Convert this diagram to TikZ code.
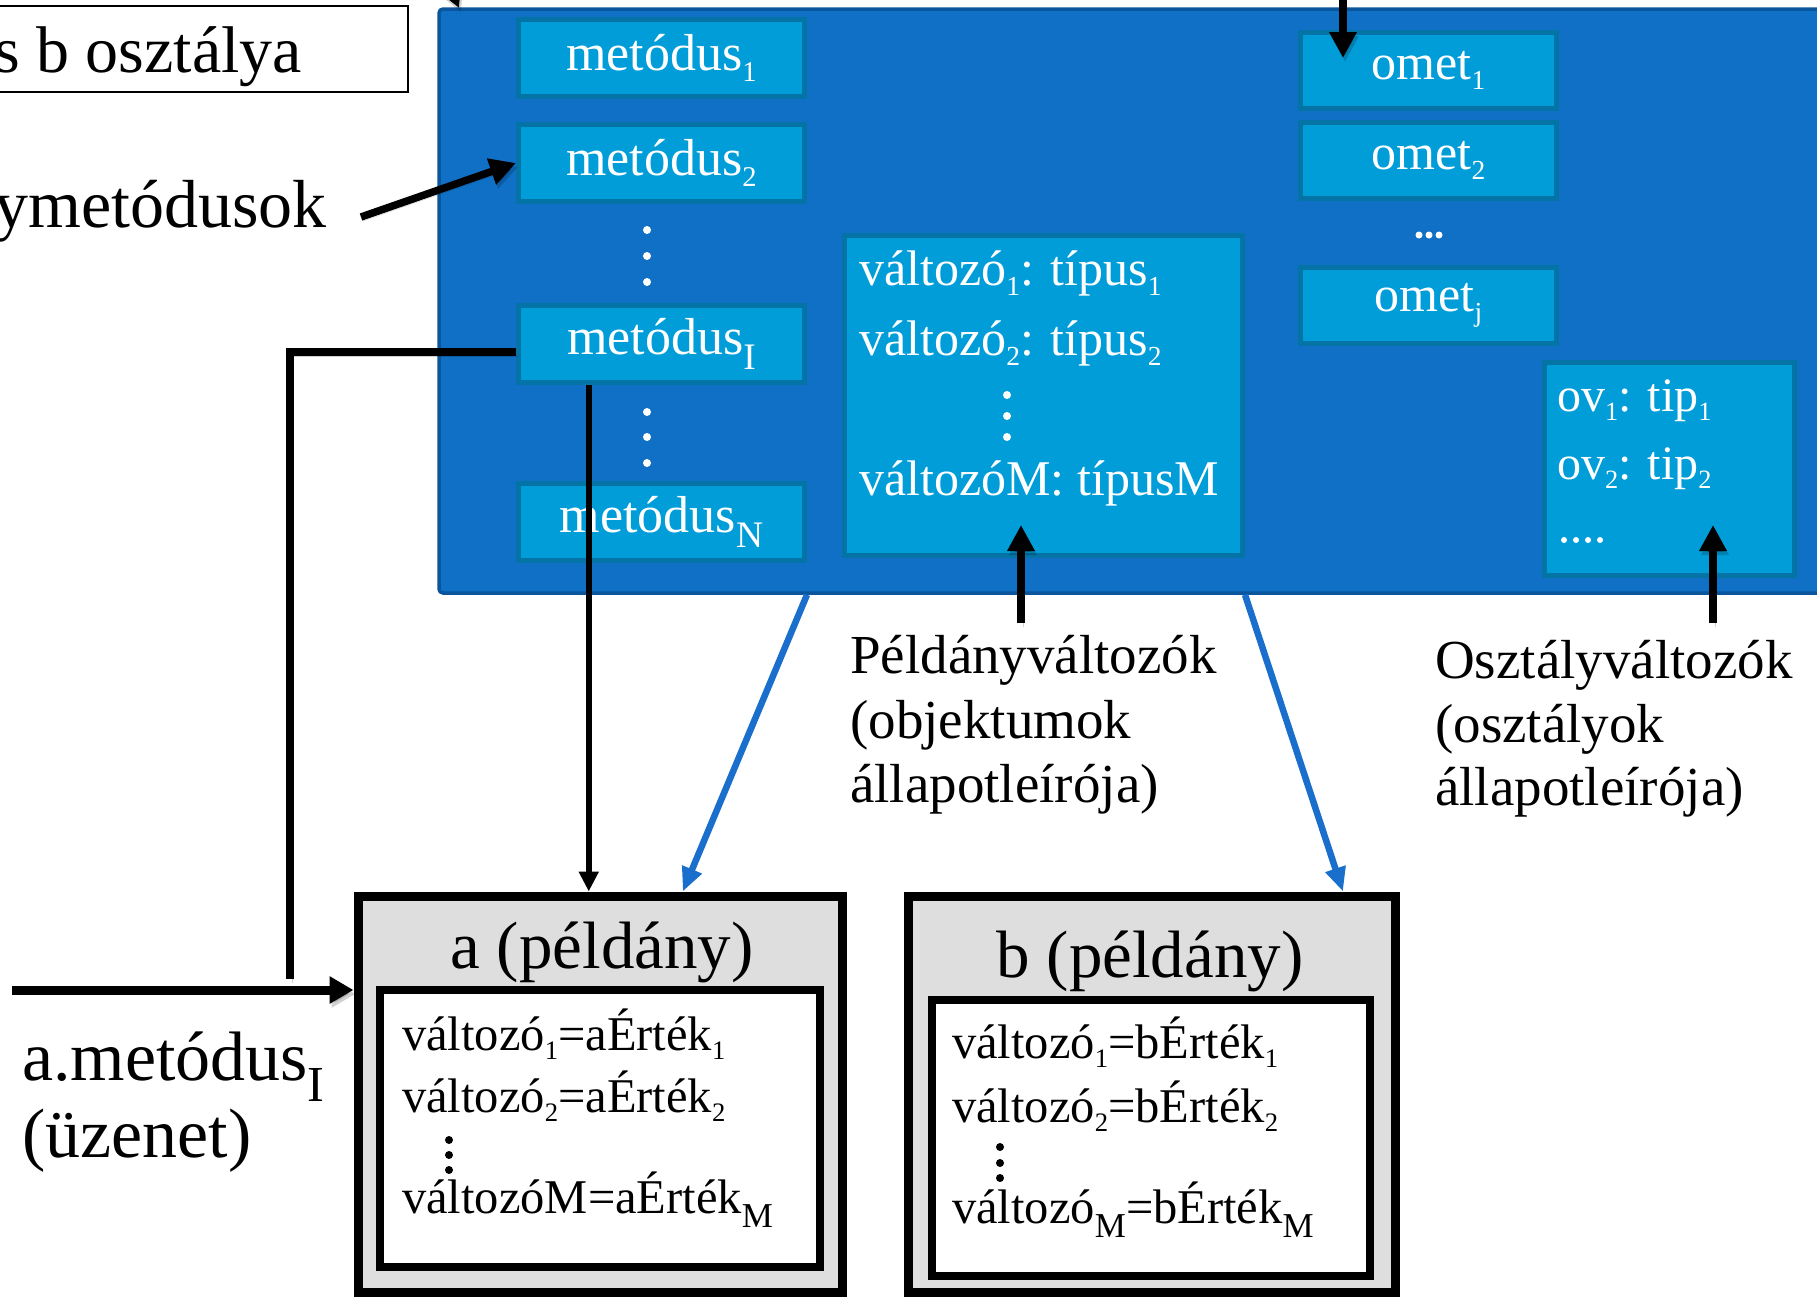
\documentclass[tikz,border=0pt]{standalone}
\usepackage{fontspec}
\setmainfont{Liberation Serif}
\usepackage{graphicx}
\usetikzlibrary{arrows.meta,calc}

\definecolor{classblue}{HTML}{1070C6}
\definecolor{classedge}{HTML}{0B559C}
\definecolor{cellfill}{HTML}{009DD9}
\definecolor{celledge}{HTML}{0473A6}
\definecolor{instgray}{HTML}{DEDEDE}
\definecolor{linkblue}{HTML}{1A6FCC}

\newcommand\fz[1]{\fontsize{#1}{#1}\selectfont}
\newcommand\sub[1]{\raisebox{-0.2em}{\scalebox{0.55}{#1}}}
\newcommand\subc[1]{\raisebox{-0.3em}{\scalebox{0.72}{#1}}}

\tikzset{
  cell/.style={draw=celledge, line width=5pt, fill=cellfill, inner sep=0pt, text=white},
  celltext/.style={text=white, inner sep=0pt, anchor=base west},
  meth/.style={cell, minimum width=286pt, minimum height=77pt, font=\fz{52}},
  omet/.style={cell, minimum width=256pt, minimum height=76pt, font=\fz{50}},
  inst/.style={draw=black, line width=9pt, fill=instgray, inner sep=0pt},
  slot/.style={draw=black, line width=8pt, fill=white, inner sep=0pt},
  txt/.style={inner sep=0pt, anchor=base west},
  wdot/.style={fill=white},
  bdot/.style={fill=black},
  shade/.style={preaction={draw=black, opacity=0.18, transform canvas={shift={(2pt,-4pt)}}}},
  bigarrow/.style={draw=black, line width=9pt, shade, -{Triangle[length=24pt,width=26pt]}},
  midarrow/.style={draw=black, line width=7.5pt, shade, -{Triangle[length=26pt,width=26pt]}},
  thinarrow/.style={draw=black, line width=6.5pt, -{Triangle[length=20pt,width=19pt]}},
  bluearrow/.style={draw=linkblue, line width=6.5pt, -{Triangle[length=24pt,width=20pt]}},
  plainline/.style={draw=black, line width=8pt, shade}
}

\begin{document}
\begin{tikzpicture}[x=1pt, y=-1pt]
\useasboundingbox (0,0) rectangle (1817,1296);
\fill[white] (0,0) rectangle (1817,1296);

% class name box at the top left
\node[draw=black, line width=2.5pt, minimum width=418pt, minimum height=86pt, inner sep=0pt] (clsbox) at (199,49) {};
\node[txt, font=\fz{66}] (clsname) at (-6,72) {s b osztálya};

% class methods caption
\node[txt, font=\fz{68}] (osztm) at (-6,227) {ymetódusok};

% the class body
\node[draw=classedge, line width=3.5pt, fill=classblue, rounded corners=4pt,
      minimum width=1391pt, minimum height=584pt, inner sep=0pt] (cls) at (1134.5,301) {};

% instance methods
\node[meth] (m1) at (661.5,58)  {metódus\sub{1}};
\node[meth] (m2) at (661.5,163) {metódus\sub{2}};
\node[meth] (mI) at (661.5,344) {metódus\subc{I}};
\node[meth] (mN) at (661.5,522) {metódus\subc{N}};
\foreach \yy in {230,256,282,412,437,463} \fill[wdot] (647,\yy) circle[radius=4pt];

% instance variables
\node[cell, minimum width=398pt, minimum height=320pt] (vars) at (1043.5,395.5) {};
\node[celltext, font=\fz{50}] (v1) at (859,285) {változó\sub{1}: típus\sub{1}};
\node[celltext, font=\fz{50}] (v2) at (859,355) {változó\sub{2}: típus\sub{2}};
\foreach \yy in {395,416,437} \fill[wdot] (1007,\yy) circle[radius=4pt];
\node[celltext, font=\fz{50}] (vM) at (859,495) {változóM: típusM};

% class methods
\node[omet] (o1) at (1428.5,70)  {omet\sub{1}};
\node[omet] (o2) at (1428.5,160) {omet\sub{2}};
\node[omet] (oj) at (1428.5,305) {omet\raisebox{-0.2em}{\scalebox{0.55}{j}}};
\foreach \xx in {1419,1429,1439} \fill[wdot] (\xx,235) circle[radius=3.5pt];

% class variables
\node[cell, minimum width=250pt, minimum height=213pt] (ov) at (1669.5,469) {};
\node[celltext, font=\fz{48}] (ov1) at (1557,411) {ov\sub{1}: tip\sub{1}};
\node[celltext, font=\fz{48}] (ov2) at (1557,479) {ov\sub{2}: tip\sub{2}};
\foreach \xx in {1564,1576,1588,1600} \fill[wdot] (\xx,540) circle[radius=3pt];

% captions below the class
\node[txt, font=\fz{55}] (pl1) at (850,673) {Példányváltozók};
\node[txt, font=\fz{55}] (pl2) at (850,738) {(objektumok};
\node[txt, font=\fz{55}] (pl3) at (850,802) {állapotleírója)};
\node[txt, font=\fz{55}] (ol1) at (1435,678) {Osztályváltozók};
\node[txt, font=\fz{55}] (ol2) at (1435,742) {(osztályok};
\node[txt, font=\fz{55}] (ol3) at (1435,805) {állapotleírója)};

% instance a
\node[inst, minimum width=484pt, minimum height=396pt] (a) at (600,1094) {};
\node[font=\fz{67}, inner sep=0pt, anchor=base] (atitle) at (602,968) {a (példány)};
\node[slot, minimum width=440pt, minimum height=277pt] (aslot) at (600,1128.5) {};
\node[txt, font=\fz{48.5}] (a1) at (402,1050) {változó\sub{1}=aÉrték\sub{1}};
\node[txt, font=\fz{48.5}] (a2) at (402,1112) {változó\sub{2}=aÉrték\sub{2}};
\foreach \yy in {1140,1155,1170} \fill[bdot] (449,\yy) circle[radius=4pt];
\node[txt, font=\fz{48.5}] (aM) at (402,1213) {változóM=aÉrték\subc{M}};

% instance b
\node[inst, minimum width=487pt, minimum height=396pt] (b) at (1151.5,1094) {};
\node[font=\fz{67}, inner sep=0pt, anchor=base] (btitle) at (1150,977) {b (példány)};
\node[slot, minimum width=438pt, minimum height=276pt] (bslot) at (1151,1138) {};
\node[txt, font=\fz{48.5}] (b1) at (952,1058) {változó\sub{1}=bÉrték\sub{1}};
\node[txt, font=\fz{48.5}] (b2) at (952,1122) {változó\sub{2}=bÉrték\sub{2}};
\foreach \yy in {1147,1163,1178} \fill[bdot] (1000,\yy) circle[radius=4pt];
\node[txt, font=\fz{48.5}] (bM) at (952,1223) {változó\subc{M}=bÉrték\subc{M}};

% message caption
\node[txt, font=\fz{70}] (msg1) at (22,1080) {a.metódus\subc{I}};
\node[txt, font=\fz{70}] (msg2) at (22,1157) {(üzenet)};

% connectors
\coordinate (cmfrom) at (361,217);
\draw[midarrow] (cmfrom) -- (m2.west);

\coordinate (topin) at (1343,-10);
\draw[midarrow] (topin) -- (1343,58);

\coordinate (cornerin) at (430,-60);
\draw[midarrow] (cornerin) -- (459,8);

\coordinate (pvfrom) at (1021,623);
\draw[midarrow] (pvfrom) -- ($(vars.south)+(-22.5,-33)$);
\coordinate (ovfrom) at (1713,623);
\draw[midarrow] (ovfrom) -- ($(ov.south)+(43.5,-53)$);

\draw[bluearrow] (mN.south east |- cls.south) -- ($(a.north west)!0.668!(a.north east)$);
\draw[bluearrow] (vars.south east |- cls.south) -- ($(b.north west)!0.886!(b.north east)$);

\coordinate (mIbot) at ($(mI.south west)!0.25!(mI.south east)$);
\draw[thinarrow] (mIbot) -- (mIbot |- a.north);

\coordinate (lend) at (290,979);
\draw[plainline] ($(mI.west)+(0,8)$) -| (lend);

\coordinate (msgfrom) at (12,990);
\draw[bigarrow] (msgfrom) -- (a.west |- msgfrom);
\end{tikzpicture}
\end{document}
